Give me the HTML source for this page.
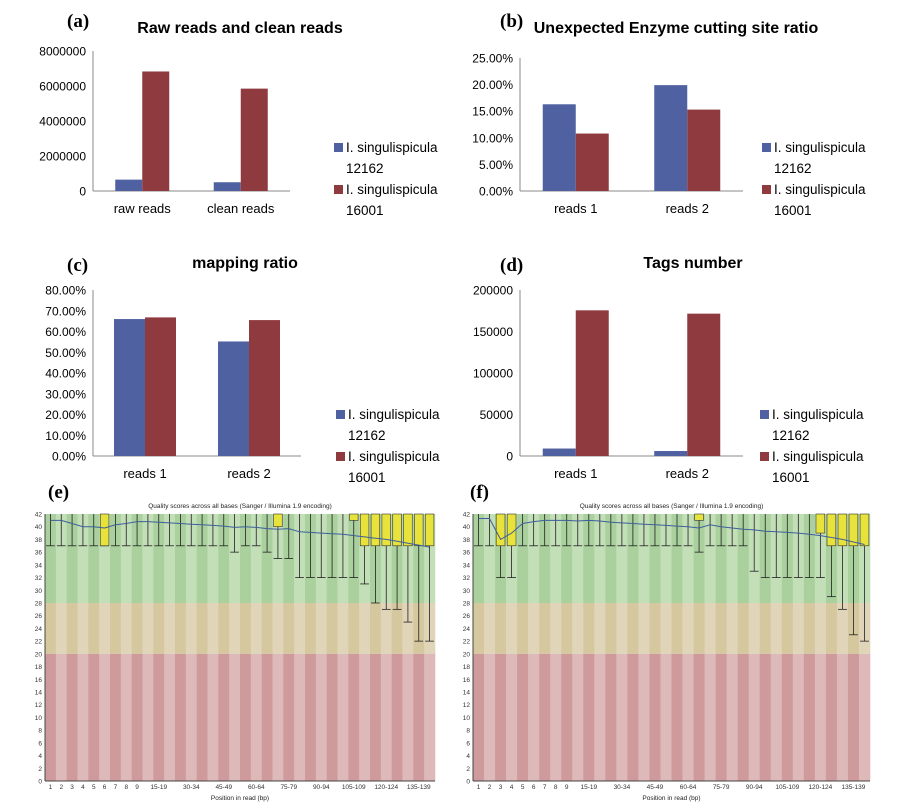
<!DOCTYPE html>
<html><head><meta charset="utf-8"><style>
body{margin:0;background:#fff;}
svg{display:block;font-family:"Liberation Sans",sans-serif;}
</style></head><body>
<svg id="fig" width="899" height="809" viewBox="0 0 899 809"></svg>
<script>
// ---- bar chart data ----
const catsA = ["raw reads","clean reads"];
const blueA = [650000, 500000];
const redA = [6830000, 5850000];
const ticksA = [0,2000000,4000000,6000000,8000000];
const ticksAL = ["0","2000000","4000000","6000000","8000000"];

const catsB = ["reads 1","reads 2"];
const blueB = [16.3, 19.9];
const redB = [10.8, 15.3];
const ticksB = [0,5,10,15,20,25];
const ticksBL = ["0.00%","5.00%","10.00%","15.00%","20.00%","25.00%"];

const catsC = ["reads 1","reads 2"];
const blueC = [66.0, 55.2];
const redC = [66.8, 65.5];
const ticksC = [0,10,20,30,40,50,60,70,80];
const ticksCL = ["0.00%","10.00%","20.00%","30.00%","40.00%","50.00%","60.00%","70.00%","80.00%"];

const catsD = ["reads 1","reads 2"];
const blueD = [9000, 6000];
const redD = [175500, 171500];
const ticksD = [0,50000,100000,150000,200000];
const ticksDL = ["0","50000","100000","150000","200000"];

// ---- FastQC data (36 columns) ----
const posLabels = ["1","2","3","4","5","6","7","8","9","","15-19","","","30-34","","","45-49","","","60-64","","","75-79","","","90-94","","","105-109","","","120-124","","","135-139",""];
const qTicks = [0,2,4,6,8,10,12,14,16,18,20,22,24,26,28,30,32,34,36,38,40,42];
const meanE = [41,41,40.5,40,40,39.8,40.3,40.5,40.8,40.8,40.7,40.6,40.5,40.4,40.3,40.2,40.1,39.9,40,39.9,39.7,39.6,39.7,39.2,39.1,39,38.9,38.8,38.6,38.4,38.2,38,37.7,37.4,37.1,36.8];
const whiskE = [37,37,37,37,37,37,37,37,37,37,37,37,37,37,37,37,37,36,37,37,36,35,35,32,32,32,32,32,32,31,28,27,27,25,22,22];
const boxLoE = [42,42,42,42,42,37,42,42,42,42,42,42,42,42,42,42,42,42,42,42,42,40,42,42,42,42,42,42,41,37,37,37,37,37,37,37];
const meanF = [41.3,41.3,38,39,40.5,40.8,41,41,41,40.9,41,40.9,40.7,40.6,40.5,40.4,40.3,40.2,40.1,40,39.8,40.3,40,39.8,39.6,39.5,39.3,39.2,39.1,39,38.8,38.6,38.3,38,37.6,37.2];
const whiskF = [37,37,32,32,37,37,37,37,37,37,37,37,37,37,37,37,37,37,37,37,36,37,37,37,37,33,32,32,32,32,32,32,29,27,23,22];
const boxLoF = [42,42,37,37,42,42,42,42,42,42,42,42,42,42,42,42,42,42,42,42,41,42,42,42,42,42,42,42,42,42,42,39,37,37,37,37];

const NS="http://www.w3.org/2000/svg";
const svg=document.getElementById('fig');
function el(tag,attrs,parent){const e=document.createElementNS(NS,tag);for(const k in attrs)e.setAttribute(k,attrs[k]);(parent||svg).appendChild(e);return e;}
function txt(s,attrs,parent){const t=el('text',attrs,parent);t.textContent=s;return t;}

function barChart(name,cfg,cats,blue,red,ticks,tickL){
  const g=el('g',{});
  
  
  const y=v=>cfg.y0-(v/cfg.max)*(cfg.y0-cfg.y1);
  ticks.forEach((t,i)=>{
    const tl=txt(tickL[i],{x:cfg.x0-7,y:y(t)+4.5,'font-size':12,'text-anchor':'end',fill:'#000'},g);
    
    
  });
  const ax=el('line',{x1:cfg.x0,y1:cfg.y1,x2:cfg.x0,y2:cfg.y0,stroke:'#888','stroke-width':1},g);
  
  
  const xa=el('line',{x1:cfg.x0,y1:cfg.y0,x2:cfg.x1,y2:cfg.y0,stroke:'#888','stroke-width':1},g);
  
  
  const band=(cfg.x1-cfg.x0)/cats.length;
  cats.forEach((c,i)=>{
    const cx=cfg.x0+band*(i+0.5);
    const b=el('rect',{x:cx-cfg.bw,y:y(blue[i]),width:cfg.bw,height:cfg.y0-y(blue[i]),fill:'#4f61a1'},g);
    
    
    const r=el('rect',{x:cx,y:y(red[i]),width:cfg.bw,height:cfg.y0-y(red[i]),fill:'#8e3a3f'},g);
    
    
    const l=txt(c,{x:cx,y:cfg.y0+22,'font-size':13,'text-anchor':'middle'},g);
    
    
  });
  const t=txt(cfg.title,{x:cfg.tx,y:cfg.ty,'font-size':16,'font-weight':'bold','text-anchor':'middle'},g);
  
  
  const lg=el('g',{},g);
  
  
  [['#4f61a1','12162',cfg.ly],['#8e3a3f','16001',cfg.ly+42]].forEach(([col,num,yy])=>{
    el('rect',{x:cfg.lx,y:yy-9,width:9,height:9,fill:col},lg);
    txt('I. singulispicula',{x:cfg.lx+12,y:yy,'font-size':13.5},lg);
    txt(num,{x:cfg.lx+12,y:yy+21,'font-size':13.5},lg);
  });
}

barChart('chart-raw-clean-reads',{x0:93,x1:290,y0:191,y1:51,max:8000000,bw:27,title:'Raw reads and clean reads',tx:240,ty:33,lx:334,ly:152},catsA,blueA,redA,ticksA,ticksAL);
barChart('chart-enzyme-ratio',{x0:520,x1:743,y0:191,y1:58,max:25,bw:33,title:'Unexpected Enzyme cutting site ratio',tx:676,ty:33,lx:762,ly:152},catsB,blueB,redB,ticksB,ticksBL);
barChart('chart-mapping-ratio',{x0:93,x1:301,y0:456,y1:290,max:80,bw:31,title:'mapping ratio',tx:245,ty:268,lx:336,ly:419},catsC,blueC,redC,ticksC,ticksCL);
barChart('chart-tags-number',{x0:520,x1:743,y0:456,y1:290,max:200000,bw:33,title:'Tags number',tx:693,ty:268,lx:760,ly:419},catsD,blueD,redD,ticksD,ticksDL);

function qc(name,x0,x1,mean,whisk,boxLo){
  const y0=781,y1=514;
  const g=el('g',{});
  
  
  const y=v=>y0-(v/42)*(y0-y1);
  const n=mean.length, w=(x1-x0)/n;
  for(let i=0;i<n;i++){
    const dark=i%2===0;
    [[28,42,dark?'#a9d09d':'#c3dfb8'],[20,28,dark?'#d5c79e':'#e0d5b8'],[0,20,dark?'#cf9a9c':'#ddb9ba']].forEach(([a,b,c])=>{
      el('rect',{x:x0+i*w,y:y(b),width:w+0.3,height:y(a)-y(b),fill:c},g);
    });
  }
  for(let i=0;i<n;i++){
    const cx=x0+(i+0.5)*w;
    const wl=el('line',{x1:cx,y1:y(42),x2:cx,y2:y(whisk[i]),stroke:'#222','stroke-width':0.8},g);
    
    
    el('line',{x1:cx-w*0.4,y1:y(whisk[i]),x2:cx+w*0.4,y2:y(whisk[i]),stroke:'#222','stroke-width':0.8},g);
    if(boxLo[i]<42){
      const b=el('rect',{x:cx-w*0.4,y:y(42),width:w*0.8,height:y(boxLo[i])-y(42),fill:'#e7e33c',stroke:'#333','stroke-width':0.6},g);
      
      
    }
    if(posLabels[i]){
      const l=txt(posLabels[i],{x:cx,y:y0+8,'font-size':6.5,'text-anchor':'middle',fill:'#333'},g);
      
      
    }
  }
  const pts=mean.map((v,i)=>(x0+(i+0.5)*w).toFixed(1)+','+y(v).toFixed(1)).join(' ');
  const ml=el('polyline',{points:pts,fill:'none',stroke:'#3f5f9c','stroke-width':1},g);
  
  
  qTicks.forEach(t=>{
    const l=txt(String(t),{x:x0-3,y:y(t)+2.5,'font-size':6.5,'text-anchor':'end',fill:'#333'},g);
    
    
  });
  el('line',{x1:x0,y1:y0,x2:x1,y2:y0,stroke:'#444','stroke-width':1},g);
  el('line',{x1:x0,y1:y1,x2:x0,y2:y0,stroke:'#444','stroke-width':1},g);
  const t=txt('Quality scores across all bases (Sanger / Illumina 1.9 encoding)',{x:(x0+x1)/2,y:508,'font-size':6.5,'text-anchor':'middle',fill:'#222'},g);
  
  
  const xt=txt('Position in read (bp)',{x:(x0+x1)/2,y:800,'font-size':6.5,'text-anchor':'middle',fill:'#222'},g);
  
  
}
qc('chart-quality-e',45,435,meanE,whiskE,boxLoE);
qc('chart-quality-f',473,870,meanF,whiskF,boxLoF);

[['(a)',67,27],['(b)',500,27],['(c)',67,271],['(d)',500,271],['(e)',48,498],['(f)',470,498]].forEach(([s,x,y])=>{
  const t=txt(s,{x:x,y:y,'font-size':19,'font-weight':'bold','font-family':'"Liberation Serif",serif'});
  
  
});
</script>
</body></html>
